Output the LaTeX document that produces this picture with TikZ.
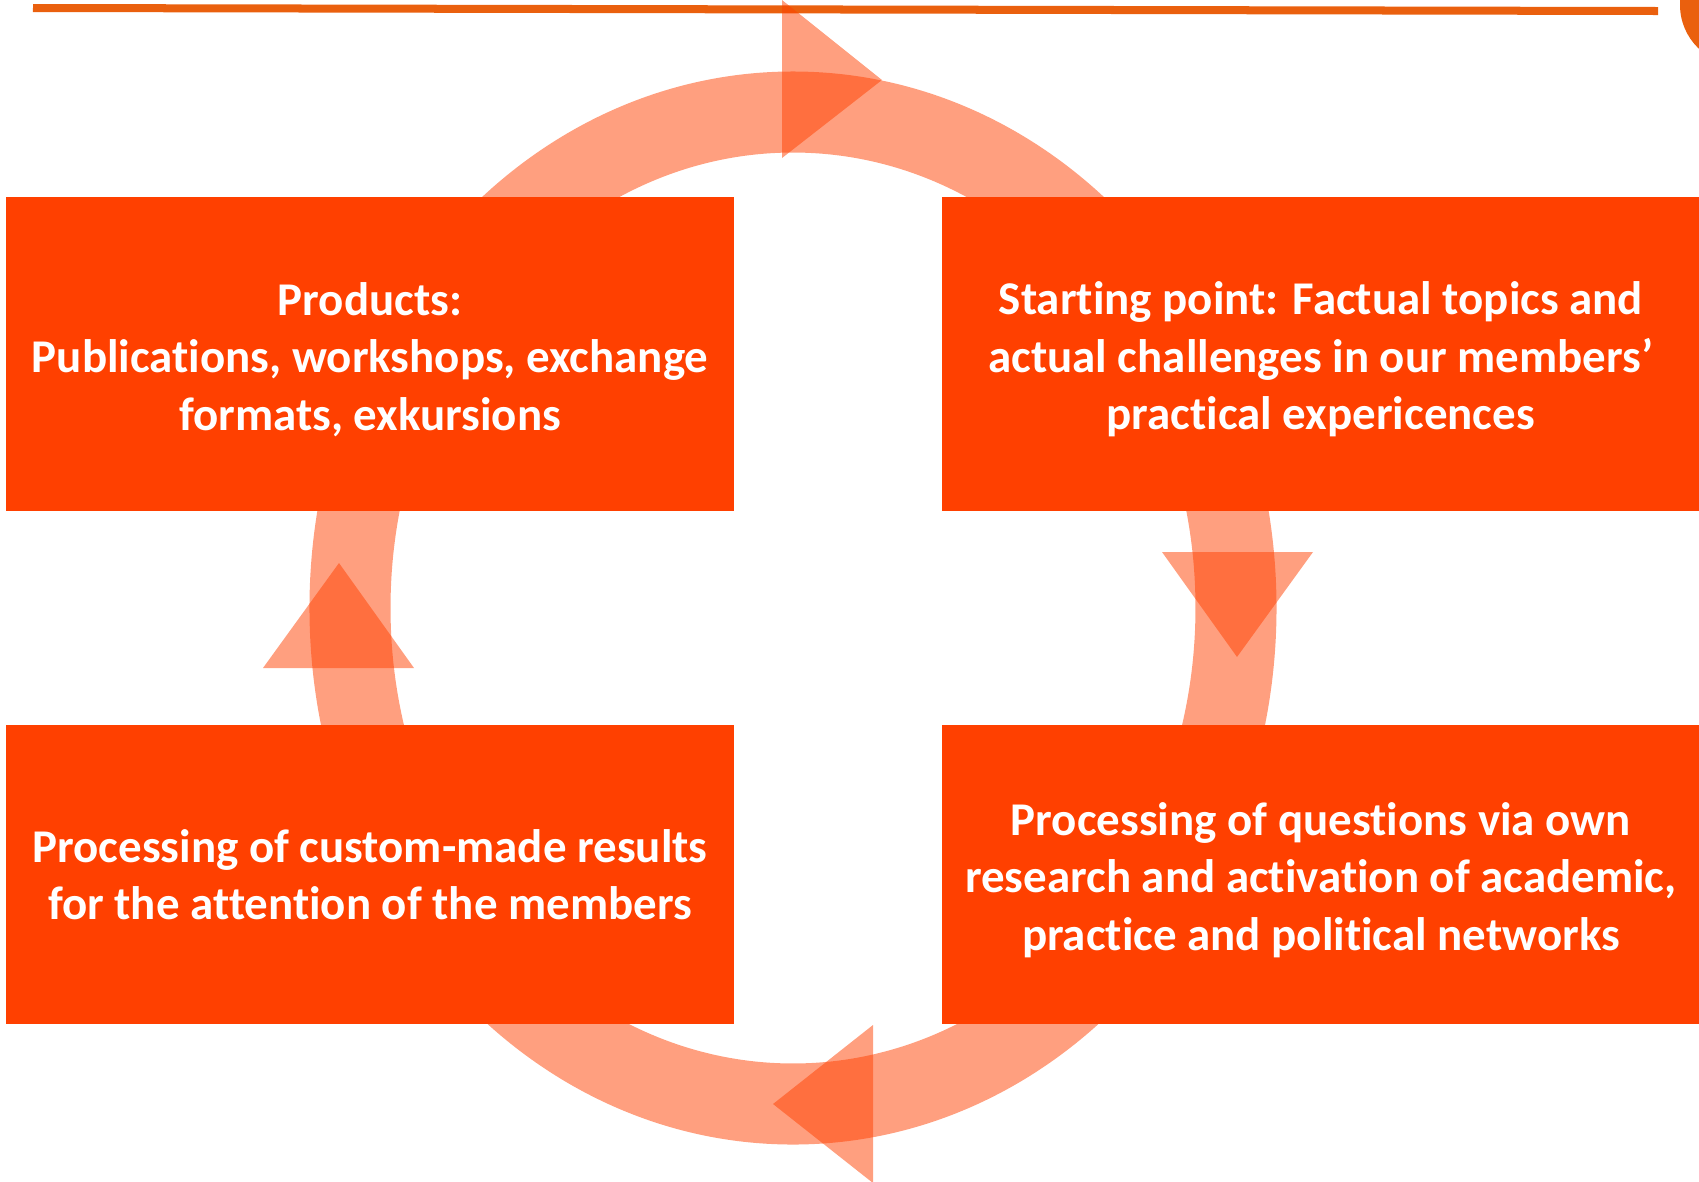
\documentclass[tikz,border=0pt]{standalone}
\usepackage{fontspec}
\setmainfont{Carlito}[Ligatures=NoCommon]
\usepackage{tikz}

\definecolor{boxorange}{RGB}{255,64,0}
\definecolor{ruleorange}{RGB}{234,96,14}
\newcommand{\firstline}{\rule{0pt}{12.6pt}}

\begin{document}
\begin{tikzpicture}[x=0.01cm,y=-0.01cm,
  box/.style={fill=boxorange,text=white,inner sep=0pt,align=center,
    font=\bfseries\fontsize{13.35pt}{16.3pt}\selectfont},
  tipshape/.style={fill=boxorange,fill opacity=0.5}]
\clip (0,0) rectangle (1699,1181);
\draw [ruleorange,line width=0.08cm] (33,8) -- (1658,11);
\fill [ruleorange] (1740,5) circle [radius=60];
% the cycle
\draw [boxorange,opacity=0.5,line width=0.81cm] (793,608) ellipse [x radius=443,y radius=496];
\fill [tipshape] (782,0) -- (882,80) -- (782,158) -- cycle;
\fill [tipshape] (1162,552) -- (1313,552) -- (1237,657) -- cycle;
\fill [tipshape] (873,1025) -- (773,1104) -- (873,1183) -- cycle;
\fill [tipshape] (263,668) -- (414,668) -- (339,563) -- cycle;
\node [box,minimum width=7.271cm,minimum height=3.132cm] (products) at (370.05,353.8) {\firstline Products:\\Publications, workshops, exchange\\formats, exkursions};
\node [box,minimum width=7.563cm,minimum height=3.132cm] (start) at (1320.85,353.8) {\firstline Starting point: Factual topics and\\actual challenges in our members’\\practical expericences};
\node [box,minimum width=7.271cm,minimum height=2.99cm] (results) at (370.05,874.5) {Processing of custom-made results\\for the attention of the members};
\node [box,minimum width=7.563cm,minimum height=2.99cm] (research) at (1320.85,874.5) {\firstline Processing of questions via own\\research and activation of academic,\\practice and political networks};
\end{tikzpicture}
\end{document}
